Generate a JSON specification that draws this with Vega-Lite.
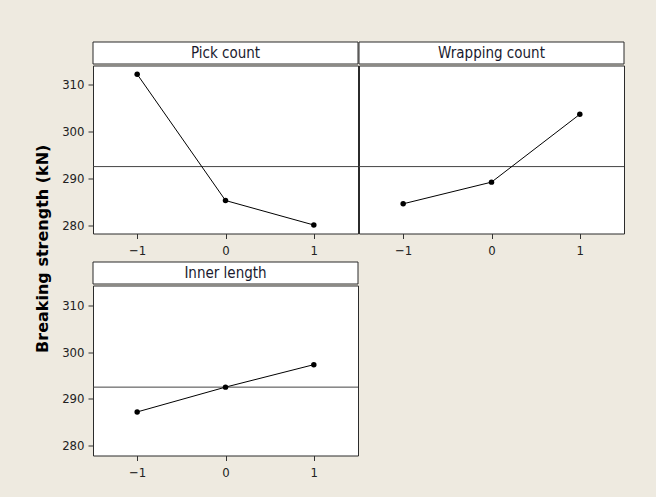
{
  "$schema": "https://vega.github.io/schema/vega-lite/v6.json",
  "background": "#EEEAE0",
  "padding": {"left": 35, "top": 41, "right": 32, "bottom": 21},
  "title": {"text": "Breaking strength (kN)", "orient": "left", "anchor": "middle", "font": "DejaVu Sans", "fontSize": 16, "fontWeight": "bold", "color": "#000000", "offset": 10, "dx": 12},
  "datasets": {
    "effects": [
      {"factor": "Pick count", "level": -1, "mean": 312.1},
      {"factor": "Pick count", "level": 0, "mean": 285.3},
      {"factor": "Pick count", "level": 1, "mean": 280.1},
      {"factor": "Wrapping count", "level": -1, "mean": 284.6},
      {"factor": "Wrapping count", "level": 0, "mean": 289.2},
      {"factor": "Wrapping count", "level": 1, "mean": 303.6},
      {"factor": "Inner length", "level": -1, "mean": 287.2},
      {"factor": "Inner length", "level": 0, "mean": 292.5},
      {"factor": "Inner length", "level": 1, "mean": 297.3}
    ],
    "panels": [
      {"factor": "Pick count", "grand_mean": 292.5},
      {"factor": "Wrapping count", "grand_mean": 292.5},
      {"factor": "Inner length", "grand_mean": 292.5}
    ]
  },
  "vconcat": [
    {
      "hconcat": [
        {
          "vconcat": [
            {
              "width": 265, "height": 22,
              "data": {"name": "panels"},
              "transform": [{"filter": "datum.factor === 'Pick count'"}],
              "layer": [
                {"mark": {"type": "rect", "fill": "#ffffff", "stroke": "#2b2b2b", "strokeWidth": 1}, "encoding": {}},
                {"mark": {"type": "text", "font": "DejaVu Sans Condensed", "fontSize": 15, "color": "#1a1a2e"}, "encoding": {"text": {"field": "factor", "type": "nominal"}}}
              ]
            },
            {
              "width": 265, "height": 168,
              "layer": [
                {
                  "data": {"name": "panels"},
                  "transform": [{"filter": "datum.factor === 'Pick count'"}],
                  "mark": {"type": "rule", "color": "#444444", "strokeWidth": 1},
                  "encoding": {"y": {"field": "grand_mean", "type": "quantitative", "scale": {"domain": [278.3, 313.95], "nice": false, "zero": false}}}
                },
                {
                  "data": {"name": "effects"},
                  "transform": [{"filter": "datum.factor === 'Pick count'"}],
                  "mark": {"type": "line", "color": "#000000", "strokeWidth": 1, "point": {"filled": true, "size": 30, "color": "#000000"}},
                  "encoding": {
                    "x": {"field": "level", "type": "quantitative", "scale": {"domain": [-1.5, 1.5], "nice": false, "zero": false}, "axis": {"values": [-1, 0, 1], "format": "d", "title": null, "labelPadding": 6}},
                    "y": {"field": "mean", "type": "quantitative", "scale": {"domain": [278.3, 313.95], "nice": false, "zero": false}, "axis": {"values": [280, 290, 300, 310], "title": null}}
                  }
                }
              ]
            }
          ],
          "spacing": -0.5
        },
        {
          "vconcat": [
            {
              "width": 265, "height": 22,
              "data": {"name": "panels"},
              "transform": [{"filter": "datum.factor === 'Wrapping count'"}],
              "layer": [
                {"mark": {"type": "rect", "fill": "#ffffff", "stroke": "#2b2b2b", "strokeWidth": 1}, "encoding": {}},
                {"mark": {"type": "text", "font": "DejaVu Sans Condensed", "fontSize": 15, "color": "#1a1a2e"}, "encoding": {"text": {"field": "factor", "type": "nominal"}}}
              ]
            },
            {
              "width": 265, "height": 168,
              "layer": [
                {
                  "data": {"name": "panels"},
                  "transform": [{"filter": "datum.factor === 'Wrapping count'"}],
                  "mark": {"type": "rule", "color": "#444444", "strokeWidth": 1},
                  "encoding": {"y": {"field": "grand_mean", "type": "quantitative", "scale": {"domain": [278.3, 313.95], "nice": false, "zero": false}, "axis": null}}
                },
                {
                  "data": {"name": "effects"},
                  "transform": [{"filter": "datum.factor === 'Wrapping count'"}],
                  "mark": {"type": "line", "color": "#000000", "strokeWidth": 1, "point": {"filled": true, "size": 30, "color": "#000000"}},
                  "encoding": {
                    "x": {"field": "level", "type": "quantitative", "scale": {"domain": [-1.5, 1.5], "nice": false, "zero": false}, "axis": {"values": [-1, 0, 1], "format": "d", "title": null, "labelPadding": 6}},
                    "y": {"field": "mean", "type": "quantitative", "scale": {"domain": [278.3, 313.95], "nice": false, "zero": false}, "axis": null}
                  }
                }
              ]
            }
          ],
          "spacing": -0.5
        }
      ],
      "spacing": -1
    },
    {
      "vconcat": [
        {
          "width": 265, "height": 22,
          "data": {"name": "panels"},
          "transform": [{"filter": "datum.factor === 'Inner length'"}],
          "layer": [
            {"mark": {"type": "rect", "fill": "#ffffff", "stroke": "#2b2b2b", "strokeWidth": 1}, "encoding": {}},
            {"mark": {"type": "text", "font": "DejaVu Sans Condensed", "fontSize": 15, "color": "#1a1a2e"}, "encoding": {"text": {"field": "factor", "type": "nominal"}}}
          ]
        },
        {
          "width": 265, "height": 170,
          "layer": [
            {
              "data": {"name": "panels"},
              "transform": [{"filter": "datum.factor === 'Inner length'"}],
              "mark": {"type": "rule", "color": "#444444", "strokeWidth": 1},
              "encoding": {"y": {"field": "grand_mean", "type": "quantitative", "scale": {"domain": [277.9, 314.2], "nice": false, "zero": false}}}
            },
            {
              "data": {"name": "effects"},
              "transform": [{"filter": "datum.factor === 'Inner length'"}],
              "mark": {"type": "line", "color": "#000000", "strokeWidth": 1, "point": {"filled": true, "size": 30, "color": "#000000"}},
              "encoding": {
                "x": {"field": "level", "type": "quantitative", "scale": {"domain": [-1.5, 1.5], "nice": false, "zero": false}, "axis": {"values": [-1, 0, 1], "format": "d", "title": null, "labelPadding": 6}},
                "y": {"field": "mean", "type": "quantitative", "scale": {"domain": [277.9, 314.2], "nice": false, "zero": false}, "axis": {"values": [280, 290, 300, 310], "title": null}}
              }
            }
          ]
        }
      ],
      "spacing": -0.5
    }
  ],
  "spacing": 3,
  "config": {
    "view": {"stroke": "#2b2b2b", "strokeWidth": 1, "fill": "#ffffff"},
    "axis": {"domain": false, "grid": false, "tickColor": "#333333", "tickSize": 5, "labelFont": "DejaVu Sans Condensed", "labelFontSize": 13, "labelColor": "#222222", "labelPadding": 4}
  }
}
